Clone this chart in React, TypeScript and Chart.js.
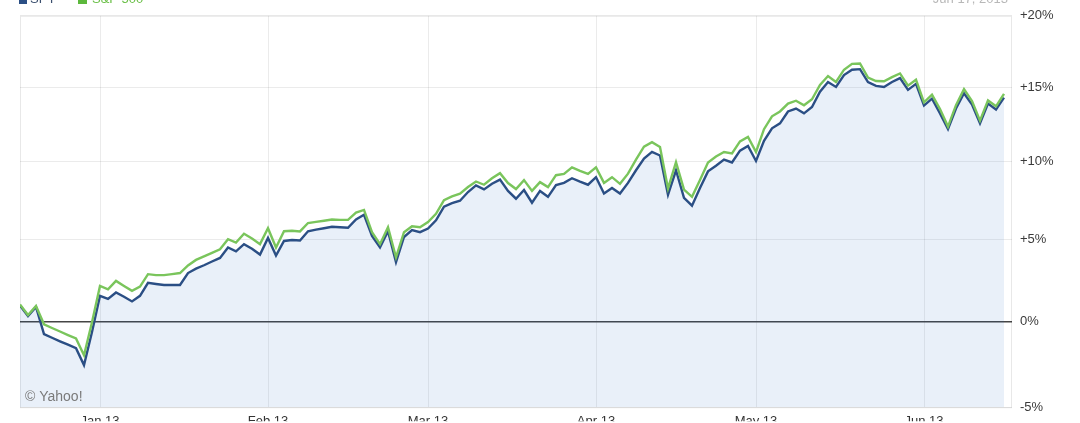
import React, { useEffect, useRef } from "react";
import { Chart, registerables } from "chart.js";

Chart.register(...registerables);

// ---- data (percent change since start) ----
const seriesNames = ["SPY", "S&P 500"];

const spyPct = [
  0.94, 0.31, 0.86, -0.76, -0.98, -1.19, -1.39, -1.59, -2.58, -0.64,
  1.53, 1.34, 1.73, 1.47, 1.19, 1.53, 2.32, 2.25, 2.19, 2.19,
  2.19, 2.92, 3.19, 3.40, 3.63, 3.85, 4.50, 4.26, 4.71, 4.42,
  4.06, 5.10, 4.00, 4.91, 4.97, 4.94, 5.52, 5.62, 5.71, 5.80,
  5.77, 5.74, 6.27, 6.56, 5.22, 4.50, 5.52, 3.59, 5.16, 5.59,
  5.46, 5.69, 6.21, 7.08, 7.30, 7.46, 8.02, 8.45, 8.19, 8.56,
  8.82, 8.09, 7.59, 8.15, 7.33, 8.09, 7.71, 8.47, 8.61, 8.91,
  8.69, 8.49, 8.98, 7.92, 8.28, 7.92, 8.61, 9.43, 10.20, 10.64,
  10.40, 7.84, 9.43, 7.65, 7.14, 8.28, 9.36, 9.73, 10.13, 9.94,
  10.72, 11.03, 10.04, 11.37, 12.21, 12.54, 13.34, 13.54, 13.21, 13.64,
  14.68, 15.35, 15.01, 15.83, 16.20, 16.24, 15.35, 15.08, 15.01, 15.35,
  15.62, 14.81, 15.22, 13.74, 14.21, 13.21, 12.15, 13.54, 14.58, 13.81,
  12.54, 13.87, 13.47, 14.28,
];

const sp500Pct = [
  1.00, 0.37, 0.92, -0.18, -0.40, -0.61, -0.82, -1.02, -2.01, -0.06,
  2.13, 1.93, 2.44, 2.13, 1.83, 2.09, 2.85, 2.79, 2.79, 2.85,
  2.92, 3.39, 3.73, 3.95, 4.17, 4.39, 5.02, 4.81, 5.36, 5.07,
  4.71, 5.71, 4.50, 5.52, 5.55, 5.51, 6.04, 6.11, 6.18, 6.26,
  6.24, 6.24, 6.70, 6.87, 5.46, 4.71, 5.77, 3.89, 5.46, 5.83,
  5.77, 6.10, 6.62, 7.50, 7.74, 7.92, 8.34, 8.70, 8.49, 8.91,
  9.24, 8.60, 8.21, 8.79, 8.09, 8.66, 8.34, 9.11, 9.19, 9.62,
  9.39, 9.19, 9.62, 8.61, 8.98, 8.55, 9.21, 10.13, 10.98, 11.28,
  10.96, 8.25, 9.96, 8.17, 7.71, 8.80, 9.94, 10.33, 10.63, 10.54,
  11.33, 11.63, 10.63, 12.15, 13.01, 13.34, 13.87, 14.07, 13.76, 14.17,
  15.15, 15.76, 15.35, 16.20, 16.61, 16.63, 15.66, 15.42, 15.40, 15.69,
  15.94, 15.10, 15.51, 13.96, 14.48, 13.50, 12.32, 13.77, 14.86, 14.04,
  12.72, 14.09, 13.69, 14.54,
];

const monthTickIndex = [10, 31, 51, 72, 92, 113];
const monthLabels = ["Jan 13", "Feb 13", "Mar 13", "Apr 13", "May 13", "Jun 13"];
const yTickPct = [-5, 0, 5, 10, 15, 20];
const dateLabel = "Jun 17, 2013";
const creditText = "© Yahoo!";

// ---- styles ----
const FONT = '"Liberation Sans", Arial, Helvetica, sans-serif';
const BLUE = "#2b4f85";
const GREEN = "#7ac55c";
const FILL = "rgba(40,110,200,0.1)";
const GRID = "rgba(0,0,0,0.08)";

const fmtPct = (p: number) => (p > 0 ? "+" : "") + p + "%";

export default function App() {
  const ref = useRef<HTMLCanvasElement>(null);

  useEffect(() => {
    document.body.style.margin = "0";
    const toPoints = (arr: number[]) => arr.map((v, i) => ({ x: i, y: 100 + v }));

    const overlay = {
      id: "overlay",
      beforeDatasetsDraw(chart: any) {
        const { ctx, chartArea: a } = chart;
        ctx.save();
        ctx.strokeStyle = "rgba(0,0,0,0.09)";
        ctx.lineWidth = 1;
        ctx.strokeRect(a.left + 0.5, a.top + 0.5, a.right - a.left - 1, a.bottom - a.top);
        ctx.restore();
      },
      afterDraw(chart: any) {
        const { ctx, chartArea: a } = chart;
        ctx.save();
        // legend (cut off at the top edge)
        ctx.font = `13px ${FONT}`;
        ctx.textBaseline = "alphabetic";
        ctx.fillStyle = BLUE;
        ctx.fillRect(19, -5, 8, 9);
        ctx.fillStyle = "#3b4f6e";
        ctx.fillText(seriesNames[0], 30, 3);
        ctx.fillStyle = "#5cb83c";
        ctx.fillRect(78, -5, 9, 9);
        ctx.fillStyle = "#6cc04a";
        ctx.fillText(seriesNames[1], 92, 3);
        // date
        ctx.textAlign = "right";
        ctx.fillStyle = "#b8b8b8";
        ctx.fillText(dateLabel, 1008, 3);
        // credit
        ctx.textAlign = "left";
        ctx.textBaseline = "middle";
        ctx.font = `14px ${FONT}`;
        ctx.fillStyle = "#7a7a7a";
        ctx.fillText(creditText, a.left + 5, 397);
        ctx.restore();
      },
    };

    const chart = new Chart(ref.current as HTMLCanvasElement, {
      type: "line",
      data: {
        datasets: [
          {
            label: seriesNames[1],
            data: toPoints(sp500Pct),
            borderColor: GREEN,
            borderWidth: 2.4,
            pointRadius: 0,
            tension: 0,
            fill: false,
            order: 0,
          },
          {
            label: seriesNames[0],
            data: toPoints(spyPct),
            borderColor: BLUE,
            borderWidth: 2.4,
            pointRadius: 0,
            tension: 0,
            fill: "start",
            backgroundColor: FILL,
            order: 1,
          },
        ],
      },
      options: {
        animation: false,
        responsive: false,
        maintainAspectRatio: false,
        layout: { padding: { left: 20, top: 10, right: 0, bottom: 0 } },
        plugins: {
          legend: { display: false },
          tooltip: { enabled: false },
        },
        scales: {
          x: {
            type: "linear",
            min: 0,
            max: spyPct.length,
            afterBuildTicks: (s: any) => {
              s.ticks = monthTickIndex.map((v) => ({ value: v }));
            },
            afterFit: (s: any) => {
              s.height = 14;
            },
            ticks: {
              autoSkip: false,
              maxRotation: 0,
              padding: 6,
              color: "#333",
              font: { family: FONT, size: 13 },
              callback: (_v: any, i: number) => monthLabels[i],
            },
            grid: { color: GRID, drawTicks: false },
            border: { display: false },
          },
          y: {
            type: "logarithmic",
            position: "right",
            min: 100 + yTickPct[0],
            max: 100 + yTickPct[yTickPct.length - 1],
            afterBuildTicks: (s: any) => {
              s.ticks = yTickPct.map((p) => ({ value: 100 + p }));
            },
            afterFit: (s: any) => {
              s.width = 68;
            },
            ticks: {
              padding: 8,
              color: "#3a3a3a",
              font: { family: FONT, size: 13 },
              callback: (_v: any, i: number) => fmtPct(yTickPct[i]),
            },
            grid: {
              drawTicks: false,
              color: (c: any) => (c.tick && c.tick.value === 100 ? "#454545" : GRID),
              lineWidth: (c: any) => (c.tick && c.tick.value === 100 ? 1.5 : 1),
            },
            border: { display: false },
          },
        },
      },
      plugins: [overlay],
    } as any);

    return () => chart.destroy();
  }, []);

  return (
    <div style={{ position: "fixed", left: 0, top: 0, width: 1080, height: 423 }}>
      <canvas ref={ref} width={1080} height={423} style={{ display: "block" }} />
    </div>
  );
}
